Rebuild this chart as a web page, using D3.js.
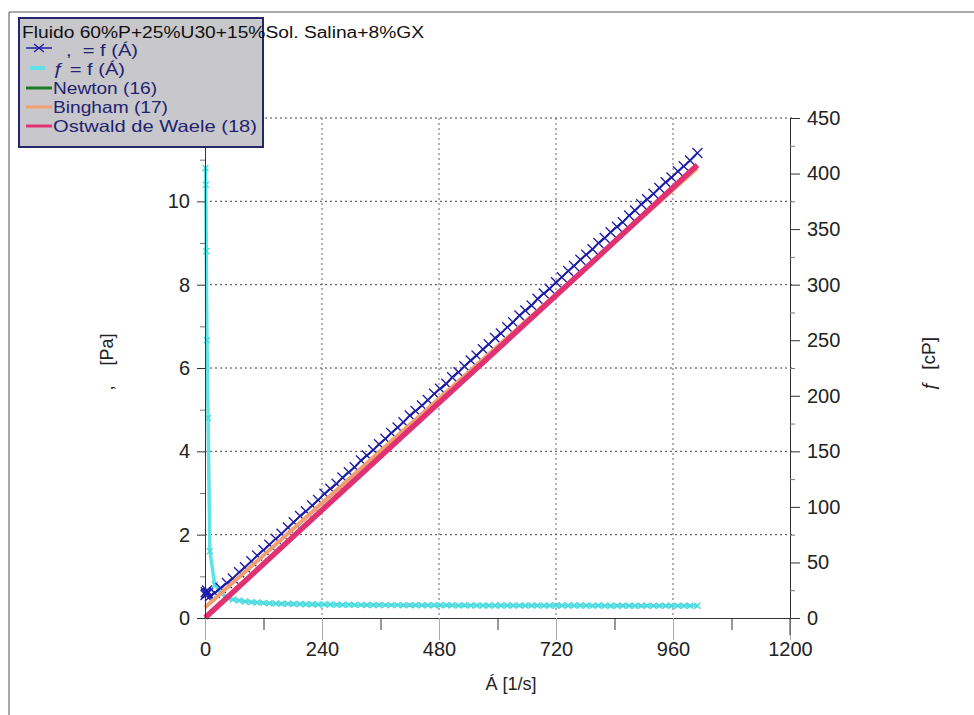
<!DOCTYPE html>
<html>
<head>
<meta charset="utf-8">
<script src="https://cdn.jsdelivr.net/npm/d3@7"></script>
<style>
  body { margin: 0; background: #ffffff; }
  svg { display: block; }
  text { font-family: "Liberation Sans", Arial, sans-serif; }
</style>
</head>
<body>
<div id="chart"></div>
<script>
// Measured flow curve: shear rate [1/s], shear stress [Pa], viscosity [cP]
const shearRate = [1, 1.6, 2.5, 4, 6.3, 10, 20, 32, 45, 57, 70, 82, 95, 107, 120, 132, 145, 157, 170, 182,
  195, 207, 220, 232, 245, 257, 270, 282, 295, 307, 320, 332, 345, 357, 370, 382, 395, 407, 420, 432,
  445, 457, 470, 482, 495, 507, 520, 532, 545, 557, 570, 582, 595, 607, 620, 632, 645, 657, 670, 682,
  695, 707, 720, 732, 745, 757, 770, 782, 795, 807, 820, 832, 845, 857, 870, 882, 895, 907, 920, 932,
  945, 957, 970, 982, 995, 1010];

const shearStress = [0.55, 0.62, 0.58, 0.66, 0.6, 0.52, 0.6, 0.72, 0.84, 0.95, 1.1, 1.22, 1.36, 1.5, 1.63, 1.76, 1.9, 2.02, 2.17, 2.3,
  2.45, 2.56, 2.7, 2.83, 2.98, 3.1, 3.22, 3.37, 3.5, 3.62, 3.78, 3.9, 4.03, 4.17, 4.3, 4.44, 4.57, 4.7, 4.86, 4.97,
  5.1, 5.23, 5.38, 5.5, 5.62, 5.78, 5.9, 6.04, 6.18, 6.3, 6.45, 6.57, 6.72, 6.83, 6.98, 7.1, 7.26, 7.38, 7.5, 7.66,
  7.79, 7.9, 8.06, 8.18, 8.33, 8.45, 8.6, 8.72, 8.85, 9.0, 9.12, 9.26, 9.39, 9.5, 9.66, 9.78, 9.93, 10.05, 10.18, 10.32,
  10.46, 10.57, 10.72, 10.84, 10.98, 11.16];

const viscosity = [405, 390, 330, 250, 180, 60, 30, 22.5, 18.5, 16.7, 15.7, 14.9, 14.3, 14.0, 13.6, 13.3, 13.1, 12.9, 12.8, 12.6,
  12.6, 12.4, 12.3, 12.2, 12.2, 12.1, 11.9, 11.9, 11.9, 11.8, 11.8, 11.7, 11.7, 11.7, 11.6, 11.6, 11.6, 11.5, 11.6, 11.5,
  11.5, 11.4, 11.4, 11.4, 11.4, 11.4, 11.3, 11.4, 11.3, 11.3, 11.3, 11.3, 11.3, 11.3, 11.3, 11.2, 11.3, 11.2, 11.2, 11.2,
  11.2, 11.2, 11.2, 11.2, 11.2, 11.2, 11.2, 11.2, 11.1, 11.2, 11.1, 11.1, 11.1, 11.1, 11.1, 11.1, 11.1, 11.1, 11.1, 11.1,
  11.1, 11.0, 11.1, 11.0, 11.0, 11.0];

// Fitted models
const newtonRate = [0, 1010];
const newtonStress = [0, 10.86];
const binghamRate = [0, 1010];
const binghamStress = [0.25, 10.8];
const ostwaldRate = [0.5, 10, 50, 100, 200, 400, 600, 800, 1010];
const ostwaldStress = [0.01, 0.11, 0.54, 1.08, 2.16, 4.31, 6.45, 8.6, 10.87];

// Axes
const xTicks = [0, 240, 480, 720, 960, 1200];
const xMinorTicks = [120, 360, 600, 840, 1080];
const leftTicks = [0, 2, 4, 6, 8, 10, 12];
const leftMinorTicks = [1, 3, 5, 7, 9, 11];
const rightTicks = [0, 50, 100, 150, 200, 250, 300, 350, 400, 450];
const rightMinorTicks = [25, 75, 125, 175, 225, 275, 325, 375, 425];

const legendTitle = "Fluido 60%P+25%U30+15%Sol. Salina+8%GX";
const legendLabels = [",  = f (Á)", "ƒ = f (Á)", "Newton (16)", "Bingham (17)", "Ostwald de Waele (18)"];
const legendColors = ["#1c1ca8", "#5fe3e6", "#1f7a24", "#f0a070", "#e03272"];

const width = 974;
const height = 715;
const margin = { top: 118, right: 184, bottom: 97, left: 205 };
const innerWidth = width - margin.left - margin.right;
const innerHeight = height - margin.top - margin.bottom;

const svg = d3.select("#chart")
  .append("svg")
  .attr("width", width)
  .attr("height", height);

// outer frame lines
svg.append("path")
  .attr("d", `M9,${height} V12 H${width}`)
  .attr("fill", "none")
  .attr("stroke", "#555")
  .attr("stroke-width", 1);

const chart = svg.append("g")
  .attr("transform", `translate(${margin.left},${margin.top})`);

const x = d3.scaleLinear().domain([0, 1200]).range([0, innerWidth]);
const yLeft = d3.scaleLinear().domain([0, 12]).range([innerHeight, 0]);
const yRight = d3.scaleLinear().domain([0, 450]).range([innerHeight, 0]);

// dotted grid
chart.append("g")
  .selectAll("line")
  .data(leftTicks.filter((d) => d > 0))
  .enter()
  .append("line")
  .attr("x1", 0)
  .attr("x2", innerWidth + 4)
  .attr("y1", (d) => yLeft(d))
  .attr("y2", (d) => yLeft(d))
  .attr("stroke", "#444")
  .attr("stroke-dasharray", "2,3");

chart.append("g")
  .selectAll("line")
  .data(xTicks.filter((d) => d > 0 && d < 1200))
  .enter()
  .append("line")
  .attr("x1", (d) => x(d))
  .attr("x2", (d) => x(d))
  .attr("y1", 0)
  .attr("y2", innerHeight)
  .attr("stroke", "#666")
  .attr("stroke-dasharray", "2,3");

// viscosity curve (right axis)
const viscData = shearRate.map((r, i) => ({ r, v: viscosity[i] }));

chart.append("path")
  .datum(viscData)
  .attr("fill", "none")
  .attr("stroke", legendColors[1])
  .attr("stroke-width", 3.5)
  .attr("d", d3.line().x((d) => x(d.r)).y((d) => yRight(d.v)));

chart.append("g")
  .selectAll("path")
  .data(viscData)
  .enter()
  .append("path")
  .attr("transform", (d) => `translate(${x(d.r)},${yRight(d.v)})`)
  .attr("d", "M-3,-3L3,3M-3,3L3,-3")
  .attr("stroke", "#48d8dc")
  .attr("stroke-width", 1.3);

// shear stress curve (left axis)
const stressData = shearRate.map((r, i) => ({ r, s: shearStress[i] }));

chart.append("path")
  .datum(stressData)
  .attr("fill", "none")
  .attr("stroke", legendColors[0])
  .attr("stroke-width", 1.8)
  .attr("d", d3.line().x((d) => x(d.r)).y((d) => yLeft(d.s)));

chart.append("g")
  .selectAll("path")
  .data(stressData)
  .enter()
  .append("path")
  .attr("transform", (d) => `translate(${x(d.r)},${yLeft(d.s)})`)
  .attr("d", "M-5,-5L5,5M-5,5L5,-5")
  .attr("stroke", legendColors[0])
  .attr("stroke-width", 1.3);

// model fits
const fitLine = d3.line().x((d) => x(d[0])).y((d) => yLeft(d[1]));

chart.append("path")
  .datum(newtonRate.map((r, i) => [r, newtonStress[i]]))
  .attr("fill", "none")
  .attr("stroke", legendColors[2])
  .attr("stroke-width", 3)
  .attr("d", fitLine);

chart.append("path")
  .datum(binghamRate.map((r, i) => [r, binghamStress[i]]))
  .attr("fill", "none")
  .attr("stroke", legendColors[3])
  .attr("stroke-width", 4)
  .attr("d", fitLine);

chart.append("path")
  .datum(ostwaldRate.map((r, i) => [r, ostwaldStress[i]]))
  .attr("fill", "none")
  .attr("stroke", legendColors[4])
  .attr("stroke-width", 5.5)
  .attr("d", fitLine);

// axes
const styleTicks = (g) => g.selectAll("text")
  .attr("font-size", 20)
  .attr("fill", "#222")
  .style("font-family", "'Liberation Sans', Arial, sans-serif");

chart.append("g")
  .attr("transform", `translate(0,${innerHeight})`)
  .call(d3.axisBottom(x).tickValues(xTicks).tickSize(22).tickSizeOuter(0).tickPadding(2).tickFormat(d3.format("d")))
  .call((g) => g.select(".domain").attr("stroke", "#333"))
  .call((g) => g.selectAll(".tick line").attr("stroke", "#aaa"))
  .call(styleTicks);

chart.append("g")
  .attr("transform", `translate(0,${innerHeight})`)
  .call(d3.axisBottom(x).tickValues(xMinorTicks).tickSize(12).tickSizeOuter(0).tickFormat(""))
  .call((g) => g.select(".domain").remove())
  .call((g) => g.selectAll(".tick line").attr("stroke", "#333"));

chart.append("g")
  .call(d3.axisLeft(yLeft).tickValues(leftTicks).tickSize(8).tickSizeOuter(0).tickPadding(7))
  .call((g) => g.selectAll(".domain, .tick line").attr("stroke", "#333"))
  .call(styleTicks);

chart.append("g")
  .call(d3.axisLeft(yLeft).tickValues(leftMinorTicks).tickSize(5).tickSizeOuter(0).tickFormat(""))
  .call((g) => g.select(".domain").remove())
  .call((g) => g.selectAll(".tick line").attr("stroke", "#777"));

chart.append("g")
  .attr("transform", `translate(${innerWidth},0)`)
  .call(d3.axisRight(yRight).tickValues(rightTicks).tickSize(10).tickSizeOuter(0).tickPadding(7))
  .call((g) => g.selectAll(".domain, .tick line").attr("stroke", "#333"))
  .call(styleTicks);

chart.append("g")
  .attr("transform", `translate(${innerWidth},0)`)
  .call(d3.axisRight(yRight).tickValues(rightMinorTicks).tickSize(5).tickSizeOuter(0).tickFormat(""))
  .call((g) => g.select(".domain").remove())
  .call((g) => g.selectAll(".tick line").attr("stroke", "#777"));

// right axis line runs down past the x axis
chart.append("line")
  .attr("x1", x(1200))
  .attr("x2", x(1200))
  .attr("y1", innerHeight)
  .attr("y2", innerHeight + 17)
  .attr("stroke", "#333");

// axis titles
svg.append("text")
  .attr("x", 511)
  .attr("y", 690)
  .attr("text-anchor", "middle")
  .attr("font-size", 18)
  .attr("fill", "#222")
  .text("Á [1/s]");

svg.append("text")
  .attr("transform", "translate(113,362) rotate(-90)")
  .attr("text-anchor", "middle")
  .attr("font-size", 18)
  .attr("fill", "#222")
  .style("white-space", "pre")
  .text(",    [Pa]");

svg.append("text")
  .attr("transform", "translate(935,364) rotate(-90)")
  .attr("text-anchor", "middle")
  .attr("font-size", 19)
  .attr("fill", "#222")
  .style("white-space", "pre")
  .text("ƒ  [cP]");

// legend
const legend = svg.append("g");

legend.append("rect")
  .attr("x", 19)
  .attr("y", 18)
  .attr("width", 244)
  .attr("height", 129)
  .attr("fill", "#c7c7cc")
  .attr("stroke", "#26266a")
  .attr("stroke-width", 2);

legend.append("text")
  .attr("x", 22)
  .attr("y", 38)
  .attr("font-size", 16)
  .attr("fill", "#111")
  .attr("textLength", 402)
  .attr("lengthAdjust", "spacingAndGlyphs")
  .text(legendTitle);

const rowY = [50, 69, 88, 107, 126];
const rowTextX = [66, 53, 53, 53, 53];
const rowTextWidth = [72, 72, 104, 115, 204];

legendLabels.forEach((label, i) => {
  const y = rowY[i];
  if (i === 0) {
    legend.append("line")
      .attr("x1", 26).attr("x2", 52).attr("y1", y - 2).attr("y2", y - 2)
      .attr("stroke", legendColors[0]).attr("stroke-width", 1.5);
    legend.append("path")
      .attr("transform", `translate(39,${y - 2})`)
      .attr("d", "M-5,-4L5,4M-5,4L5,-4")
      .attr("stroke", legendColors[0]).attr("stroke-width", 1.3);
  } else if (i === 1) {
    legend.append("line")
      .attr("x1", 30).attr("x2", 45).attr("y1", y - 1).attr("y2", y - 1)
      .attr("stroke", legendColors[1]).attr("stroke-width", 4);
  } else {
    legend.append("line")
      .attr("x1", 26).attr("x2", 52).attr("y1", y).attr("y2", y)
      .attr("stroke", legendColors[i]).attr("stroke-width", 3);
  }
  legend.append("text")
    .attr("x", rowTextX[i])
    .attr("y", y + 6)
    .attr("font-size", 16.5)
    .attr("fill", "#22226e")
    .attr("textLength", rowTextWidth[i])
    .attr("lengthAdjust", "spacingAndGlyphs")
    .style("white-space", "pre")
    .text(label);
});
</script>
</body>
</html>
